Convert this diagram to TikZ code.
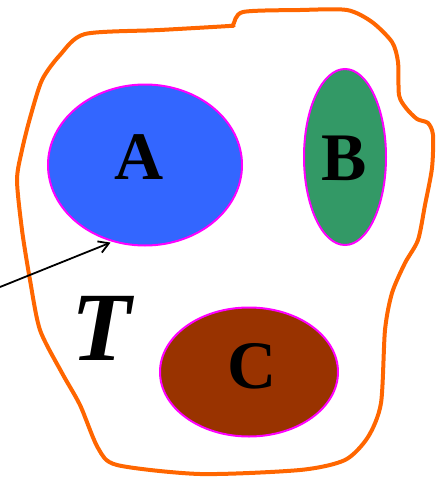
\documentclass[tikz,border=0pt]{standalone}
\usepackage{fontspec}
\setmainfont{Liberation Serif}
\usetikzlibrary{shapes.geometric,arrows.meta}

\definecolor{setorange}{HTML}{FF6600}
\definecolor{setblue}{HTML}{3366FF}
\definecolor{setgreen}{HTML}{339966}
\definecolor{setbrown}{HTML}{993300}
\definecolor{setmagenta}{HTML}{FF00FF}

\begin{document}
\begin{tikzpicture}[x=1pt, y=-1pt,
    region/.style={ellipse, draw=setmagenta, line width=2pt, inner sep=0pt},
    letter/.style={font=\fontsize{68}{68}\selectfont\bfseries}]
    \useasboundingbox (0,0) rectangle (436,477);

    % Outer boundary of T
    \draw[setorange, line width=4pt, line join=round]
        plot[smooth cycle, tension=0.45] coordinates {
            (85,34) (160,30) (229,26) (233,25) (243,12) (300,10) (347,10)
            (372,22) (392,42) (398,62) (399,95) (406,108) (417,119)
            (428,123) (433,135) (432,168) (425,205) (418,240) (405,263)
            (392,293) (385,330) (381,403) (368,437) (345,460) (300,470)
            (200,474) (117,465) (98,448) (80,405) (62,373) (40,330)
            (30,280) (22,230) (17,180) (22,150) (30,118) (42,80) (60,55)};

    % The three regions
    \node[region, fill=setblue,  minimum width=194pt, minimum height=161pt] (A) at (145,165) {};
    \node[region, fill=setgreen, minimum width=82pt,  minimum height=176pt] (B) at (345,157) {};
    \node[region, fill=setbrown, minimum width=178pt, minimum height=129pt] (C) at (249,372) {};

    % Region labels
    \node[letter] (labA) at (139,157) {A};
    \node[letter] (labB) at (344,158) {B};
    \node[letter] (labC) at (252,366) {C};
    \node[font=\fontsize{98}{98}\selectfont\bfseries\itshape] (labT) at (101,328) {T};

    % Pointer
    \coordinate (tail) at (0,287);
    \draw[-{Straight Barb[length=10pt, width=12pt]}, line width=1.8pt, shorten >=2pt]
        (tail) -- (A.247);
\end{tikzpicture}
\end{document}
